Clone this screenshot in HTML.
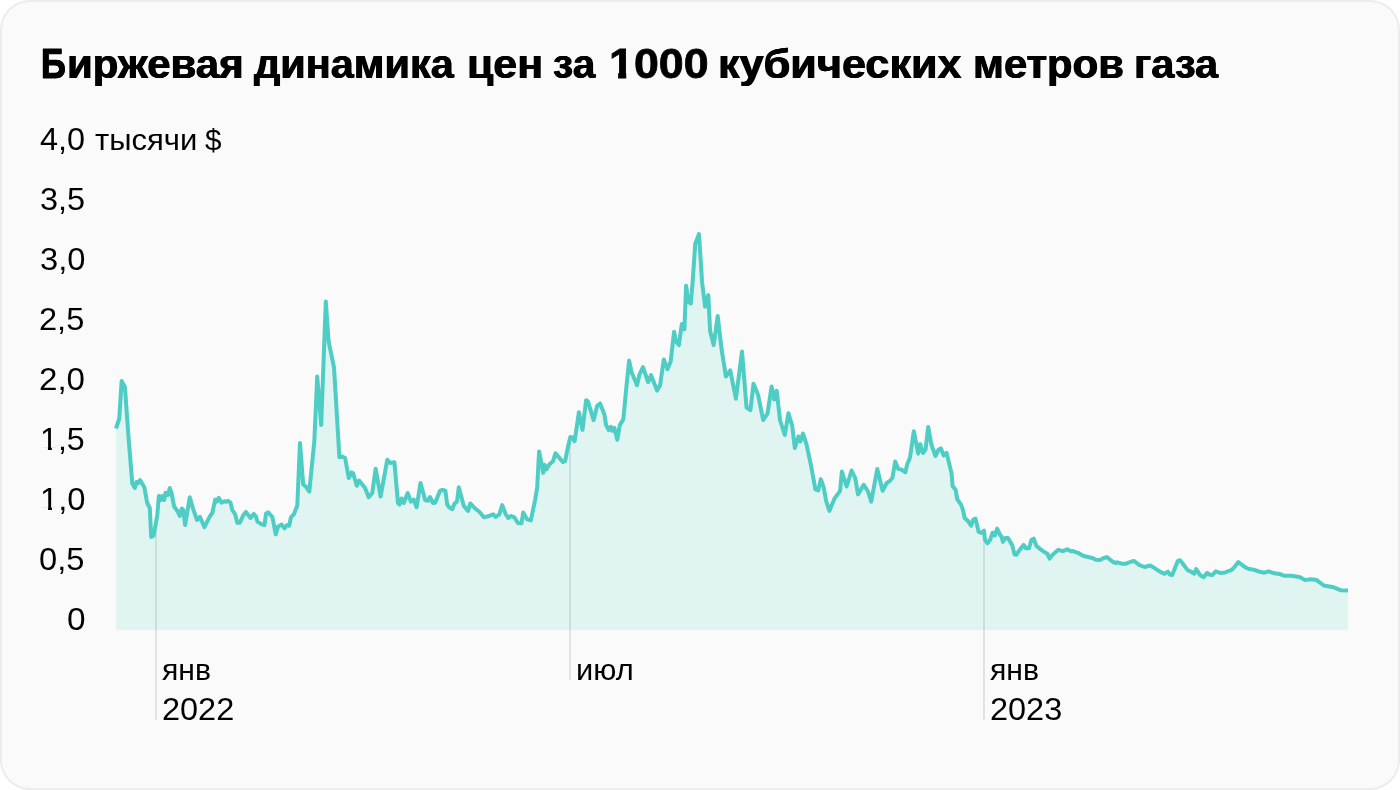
<!DOCTYPE html>
<html lang="ru">
<head>
<meta charset="utf-8">
<title>Биржевая динамика цен за 1000 кубических метров газа</title>
<style>
html,body{margin:0;padding:0;background:#fff;}
body{width:1400px;height:790px;overflow:hidden;font-family:"Liberation Sans",sans-serif;color:#000;}
.card{position:relative;box-sizing:border-box;width:1400px;height:790px;background:#fafafa;border:2px solid #ececec;border-radius:30px;overflow:hidden;}
.inner{position:absolute;left:-2px;top:-2px;width:1400px;height:790px;}
h1,.lbl{margin:0;padding:0;font-size:0;font-weight:400;}
h1 .c{-webkit-text-stroke:0.8px #000;}
h1 .b{text-shadow:0.6px 0 0 #000,-0.6px 0 0 #000;}
h1 .l{text-shadow:0.5px 0 0 #000,-0.5px 0 0 #000;}
.one{display:inline-block;}
.w{position:absolute;display:block;white-space:nowrap;transform-origin:0 0;}
svg{position:absolute;left:0;top:0;}
</style>
</head>
<body>
<div class="card"><div class="inner">
<svg width="1400" height="790" viewBox="0 0 1400 790">
<path d="M116 428.5 L119.3 418.5 L121.6 381.07 L124.9 387 L128.5 437 L132.3 483.6 L134.8 487.9 L136.5 481.92 L138 483.2 L140 480.1 L144.3 487.2 L147.2 503 L149.8 508 L151.2 537 L153.6 535.5 L157.2 515.8 L158.9 495.89 L160.8 500 L162.2 496.17 L164.1 500 L165.5 492.81 L168 495 L169.8 487.98 L171.5 493 L174.1 506.5 L177.3 510.8 L179.8 516 L181.8 508.54 L183.3 510 L185.1 525 L189.8 497.2 L193 508.6 L197 520 L199.9 516.81 L204.4 527.2 L209.4 517.2 L212.3 513 L215.2 499.58 L217 501.5 L218.7 497.85 L221.6 502.6 L224.5 501.25 L226 501.8 L228 500.89 L230.5 502.6 L232.3 510 L235.2 514.4 L237.3 522.7 L239.9 522.7 L243 515.8 L245.9 511.88 L250.5 518 L253.8 513.95 L256 516.5 L257.4 521.5 L261.7 524.4 L264.5 525.1 L266 513.7 L268.1 512.33 L272.4 517 L275.7 534.4 L278.1 526.5 L281.7 524.58 L284.5 528.4 L286.7 525.16 L289.1 525.8 L291 517.2 L293.8 514.4 L297.3 505.5 L300 442.9 L303.2 484.4 L305.8 486.5 L309.3 491.5 L314.3 441.5 L317.2 376.5 L321.2 425 L325.8 301.4 L328.6 341.5 L334 367.3 L339.4 457.2 L342.2 456.56 L345.1 458 L348.7 478 L351.5 472.31 L353.2 473.5 L356.8 485.8 L359.1 480.51 L365.1 488 L368.7 497.3 L372.3 493 L375.6 468.7 L380.6 496.6 L387.3 459.71 L390.2 463 L394.4 462.27 L398 503 L399.5 504.5 L401.6 498.44 L403.7 503 L407.7 493 L410.9 501.6 L413.8 499.59 L416.6 507.3 L420.5 483 L425.2 500.1 L428 500.8 L429.9 496.97 L433 503 L435.2 502.7 L440 490.8 L442.3 489.98 L445.4 490.8 L447.2 504.4 L449.4 507.6 L452.2 509.2 L454.4 503.8 L457 501.5 L458.8 487.2 L463.8 505.9 L468.1 510.9 L470.3 503.44 L474.6 508 L479.3 511.8 L483.9 517.3 L487.9 516.3 L493.2 514.29 L495.8 517 L499.3 514.4 L502.2 505.1 L505.8 514.4 L508.3 518 L510.8 515.93 L514.3 517.3 L517.9 523 L521.5 523.3 L523.2 512.47 L527.2 519.4 L530.8 520.4 L535.1 500.1 L537.2 487.2 L539.1 451.4 L543.2 472.9 L544.4 464.74 L546.5 469.3 L549.4 464.3 L553 461.2 L555.5 453.3 L563 462.2 L565.1 461.2 L567.3 450 L570.3 437.04 L572.3 437.5 L574.6 441.3 L578.9 412.2 L582.5 429.8 L586.1 400.22 L588 401.5 L593.6 420.1 L597.2 405.8 L600.1 403.43 L604.4 414.4 L606.1 425.1 L608.7 430.1 L610.8 426.81 L612.3 430.8 L614.4 427.79 L617.3 439.7 L619.8 425.1 L623.3 419.4 L625.8 392.9 L629.1 360.6 L631.6 372.2 L637 385.3 L639.4 374.7 L643 367.2 L648.1 382 L651 375.16 L657.1 390.6 L660.1 385.3 L663.8 359.4 L667.5 369.2 L670.6 361.8 L674.1 331.7 L676 341.5 L678.9 345.1 L681.8 324.1 L684.4 329.3 L686.1 285.8 L688.4 302.3 L690.8 303.4 L692.6 282.4 L695.2 244 L699 234 L702.1 282.2 L705.1 306.8 L708.3 295.1 L710.1 331 L713.7 345.1 L717.7 316 L721.6 349.4 L725.9 376.5 L730.2 370.39 L735.9 398.7 L742 351.5 L746.5 407.5 L750.4 410.1 L753.5 383.7 L758.1 395.1 L763.2 420 L767.5 413.6 L771.6 386.5 L774.2 399.4 L776.7 390.8 L780 420 L784.8 435 L788.4 413.2 L792.2 425.8 L794.8 447.9 L798.4 436.48 L800.4 441.5 L803 433.6 L806.5 444.3 L810.8 464.4 L815.4 489.4 L818.3 490.4 L820.8 479.1 L823.7 487.3 L826.3 501.6 L829.4 510.9 L834.4 498.7 L840.1 490.8 L841.9 471.5 L846.6 486.5 L851.6 470.5 L855.2 478 L858 494.4 L863.7 484.75 L868 491.5 L871.2 501.6 L877.3 468.9 L882.6 490.8 L886.6 483 L889.5 481.3 L892.4 478 L895.2 461.49 L898.1 468.7 L901 469.4 L905.4 472.2 L907.2 464.3 L910 457.8 L913.8 431.2 L918.2 453.6 L920.2 444.1 L923 453 L925.6 449.3 L928.2 427 L931.5 445 L935.5 456 L938.4 449.8 L940.8 448.34 L943.7 455.5 L946.6 452.85 L951.6 473.6 L952.6 486.1 L955.6 489.7 L957.3 499.4 L960.9 504.4 L963 510.1 L964.7 518.1 L968 520.9 L971.1 525.8 L973.1 519.7 L975.5 518.61 L978.6 531.9 L981.2 532.9 L984 530.71 L985 540.1 L987.5 543.2 L990 540.1 L992.6 532.76 L994.8 535.5 L997.2 528.62 L1000.1 535.1 L1001.5 536.5 L1002.9 541.8 L1005.5 537.9 L1007.9 537.9 L1012.2 545.1 L1014.6 554.4 L1016.5 554.7 L1019.4 550.1 L1023.7 544.92 L1025.8 548.2 L1029 548.2 L1031.5 539.8 L1033.7 538.71 L1036.5 546.1 L1043 551.1 L1047.3 553.7 L1049.7 558.7 L1052.3 555.1 L1058.4 549.83 L1062.7 551.2 L1067.3 549.28 L1070.9 551.2 L1073 551.11 L1078.7 553.2 L1083 555.8 L1092.3 558 L1095.9 559.8 L1099.9 560.1 L1103.8 558 L1106.9 557.09 L1113.1 562 L1115.9 563 L1117.4 562.36 L1121.7 563.7 L1126 563.7 L1130.2 562 L1133.8 560.9 L1139.5 565.1 L1144.5 567 L1150.3 565.54 L1155 568.4 L1160.7 572.2 L1164.3 573.7 L1167.9 571.69 L1170 574.7 L1172.2 575.1 L1177.9 560.8 L1180 560.16 L1182.9 563.7 L1187.6 570.1 L1190.8 571.5 L1194.3 573.7 L1196.2 569.14 L1200.1 575.1 L1203.6 577.2 L1207.2 572.88 L1210 574.7 L1212.2 575.1 L1215.8 571.35 L1220.1 572.9 L1225.1 572.5 L1228 571.2 L1230.8 570.4 L1233.4 568.4 L1238.3 562.04 L1245.8 567.7 L1249.4 569.1 L1253.7 569.7 L1258.7 571.5 L1264.4 572.7 L1268.7 571.33 L1273 572.9 L1279.5 573.9 L1284.5 575.8 L1290.9 575.8 L1299.5 577 L1305.2 580.1 L1310.9 579.19 L1316.7 580.1 L1323.8 585.5 L1333.8 587.3 L1341 590.3 L1348 590.4 L1348 630 L116 630 Z" fill="#e0f4f2"/>
<rect x="155" y="522.4" width="2" height="197.6" fill="#000" fill-opacity="0.09"/>
<rect x="569" y="438.3" width="2" height="241.7" fill="#000" fill-opacity="0.09"/>
<rect x="983" y="530.7" width="2" height="189.3" fill="#000" fill-opacity="0.09"/>
<path d="M116 428.5 L119.3 418.5 L121.6 381.07 L124.9 387 L128.5 437 L132.3 483.6 L134.8 487.9 L136.5 481.92 L138 483.2 L140 480.1 L144.3 487.2 L147.2 503 L149.8 508 L151.2 537 L153.6 535.5 L157.2 515.8 L158.9 495.89 L160.8 500 L162.2 496.17 L164.1 500 L165.5 492.81 L168 495 L169.8 487.98 L171.5 493 L174.1 506.5 L177.3 510.8 L179.8 516 L181.8 508.54 L183.3 510 L185.1 525 L189.8 497.2 L193 508.6 L197 520 L199.9 516.81 L204.4 527.2 L209.4 517.2 L212.3 513 L215.2 499.58 L217 501.5 L218.7 497.85 L221.6 502.6 L224.5 501.25 L226 501.8 L228 500.89 L230.5 502.6 L232.3 510 L235.2 514.4 L237.3 522.7 L239.9 522.7 L243 515.8 L245.9 511.88 L250.5 518 L253.8 513.95 L256 516.5 L257.4 521.5 L261.7 524.4 L264.5 525.1 L266 513.7 L268.1 512.33 L272.4 517 L275.7 534.4 L278.1 526.5 L281.7 524.58 L284.5 528.4 L286.7 525.16 L289.1 525.8 L291 517.2 L293.8 514.4 L297.3 505.5 L300 442.9 L303.2 484.4 L305.8 486.5 L309.3 491.5 L314.3 441.5 L317.2 376.5 L321.2 425 L325.8 301.4 L328.6 341.5 L334 367.3 L339.4 457.2 L342.2 456.56 L345.1 458 L348.7 478 L351.5 472.31 L353.2 473.5 L356.8 485.8 L359.1 480.51 L365.1 488 L368.7 497.3 L372.3 493 L375.6 468.7 L380.6 496.6 L387.3 459.71 L390.2 463 L394.4 462.27 L398 503 L399.5 504.5 L401.6 498.44 L403.7 503 L407.7 493 L410.9 501.6 L413.8 499.59 L416.6 507.3 L420.5 483 L425.2 500.1 L428 500.8 L429.9 496.97 L433 503 L435.2 502.7 L440 490.8 L442.3 489.98 L445.4 490.8 L447.2 504.4 L449.4 507.6 L452.2 509.2 L454.4 503.8 L457 501.5 L458.8 487.2 L463.8 505.9 L468.1 510.9 L470.3 503.44 L474.6 508 L479.3 511.8 L483.9 517.3 L487.9 516.3 L493.2 514.29 L495.8 517 L499.3 514.4 L502.2 505.1 L505.8 514.4 L508.3 518 L510.8 515.93 L514.3 517.3 L517.9 523 L521.5 523.3 L523.2 512.47 L527.2 519.4 L530.8 520.4 L535.1 500.1 L537.2 487.2 L539.1 451.4 L543.2 472.9 L544.4 464.74 L546.5 469.3 L549.4 464.3 L553 461.2 L555.5 453.3 L563 462.2 L565.1 461.2 L567.3 450 L570.3 437.04 L572.3 437.5 L574.6 441.3 L578.9 412.2 L582.5 429.8 L586.1 400.22 L588 401.5 L593.6 420.1 L597.2 405.8 L600.1 403.43 L604.4 414.4 L606.1 425.1 L608.7 430.1 L610.8 426.81 L612.3 430.8 L614.4 427.79 L617.3 439.7 L619.8 425.1 L623.3 419.4 L625.8 392.9 L629.1 360.6 L631.6 372.2 L637 385.3 L639.4 374.7 L643 367.2 L648.1 382 L651 375.16 L657.1 390.6 L660.1 385.3 L663.8 359.4 L667.5 369.2 L670.6 361.8 L674.1 331.7 L676 341.5 L678.9 345.1 L681.8 324.1 L684.4 329.3 L686.1 285.8 L688.4 302.3 L690.8 303.4 L692.6 282.4 L695.2 244 L699 234 L702.1 282.2 L705.1 306.8 L708.3 295.1 L710.1 331 L713.7 345.1 L717.7 316 L721.6 349.4 L725.9 376.5 L730.2 370.39 L735.9 398.7 L742 351.5 L746.5 407.5 L750.4 410.1 L753.5 383.7 L758.1 395.1 L763.2 420 L767.5 413.6 L771.6 386.5 L774.2 399.4 L776.7 390.8 L780 420 L784.8 435 L788.4 413.2 L792.2 425.8 L794.8 447.9 L798.4 436.48 L800.4 441.5 L803 433.6 L806.5 444.3 L810.8 464.4 L815.4 489.4 L818.3 490.4 L820.8 479.1 L823.7 487.3 L826.3 501.6 L829.4 510.9 L834.4 498.7 L840.1 490.8 L841.9 471.5 L846.6 486.5 L851.6 470.5 L855.2 478 L858 494.4 L863.7 484.75 L868 491.5 L871.2 501.6 L877.3 468.9 L882.6 490.8 L886.6 483 L889.5 481.3 L892.4 478 L895.2 461.49 L898.1 468.7 L901 469.4 L905.4 472.2 L907.2 464.3 L910 457.8 L913.8 431.2 L918.2 453.6 L920.2 444.1 L923 453 L925.6 449.3 L928.2 427 L931.5 445 L935.5 456 L938.4 449.8 L940.8 448.34 L943.7 455.5 L946.6 452.85 L951.6 473.6 L952.6 486.1 L955.6 489.7 L957.3 499.4 L960.9 504.4 L963 510.1 L964.7 518.1 L968 520.9 L971.1 525.8 L973.1 519.7 L975.5 518.61 L978.6 531.9 L981.2 532.9 L984 530.71 L985 540.1 L987.5 543.2 L990 540.1 L992.6 532.76 L994.8 535.5 L997.2 528.62 L1000.1 535.1 L1001.5 536.5 L1002.9 541.8 L1005.5 537.9 L1007.9 537.9 L1012.2 545.1 L1014.6 554.4 L1016.5 554.7 L1019.4 550.1 L1023.7 544.92 L1025.8 548.2 L1029 548.2 L1031.5 539.8 L1033.7 538.71 L1036.5 546.1 L1043 551.1 L1047.3 553.7 L1049.7 558.7 L1052.3 555.1 L1058.4 549.83 L1062.7 551.2 L1067.3 549.28 L1070.9 551.2 L1073 551.11 L1078.7 553.2 L1083 555.8 L1092.3 558 L1095.9 559.8 L1099.9 560.1 L1103.8 558 L1106.9 557.09 L1113.1 562 L1115.9 563 L1117.4 562.36 L1121.7 563.7 L1126 563.7 L1130.2 562 L1133.8 560.9 L1139.5 565.1 L1144.5 567 L1150.3 565.54 L1155 568.4 L1160.7 572.2 L1164.3 573.7 L1167.9 571.69 L1170 574.7 L1172.2 575.1 L1177.9 560.8 L1180 560.16 L1182.9 563.7 L1187.6 570.1 L1190.8 571.5 L1194.3 573.7 L1196.2 569.14 L1200.1 575.1 L1203.6 577.2 L1207.2 572.88 L1210 574.7 L1212.2 575.1 L1215.8 571.35 L1220.1 572.9 L1225.1 572.5 L1228 571.2 L1230.8 570.4 L1233.4 568.4 L1238.3 562.04 L1245.8 567.7 L1249.4 569.1 L1253.7 569.7 L1258.7 571.5 L1264.4 572.7 L1268.7 571.33 L1273 572.9 L1279.5 573.9 L1284.5 575.8 L1290.9 575.8 L1299.5 577 L1305.2 580.1 L1310.9 579.19 L1316.7 580.1 L1323.8 585.5 L1333.8 587.3 L1341 590.3 L1348 590.4" fill="none" stroke="#4ecdc4" stroke-width="4" stroke-linejoin="round" stroke-linecap="butt"/>
</svg>
<h1><span class="w c b" style="left:41.38px;top:21px;font-size:42.5px;line-height:85.0px;font-weight:700;transform:scaleX(0.8107)">Б</span><span class="w l" style="left:67.05px;top:23px;font-size:41px;line-height:82px;font-weight:700;transform:scaleX(1.0243)">иржевая</span> <span class="w l" style="left:254.00px;top:23px;font-size:41px;line-height:82px;font-weight:700;transform:scaleX(1.0108)">динамика</span> <span class="w l" style="left:467.21px;top:23px;font-size:41px;line-height:82px;font-weight:700;transform:scaleX(1.0455)">цен</span> <span class="w l" style="left:552.61px;top:23px;font-size:41px;line-height:82px;font-weight:700;transform:scaleX(0.9897)">за</span> <span class="w c" style="left:608.99px;top:21px;font-size:42.5px;line-height:85.0px;font-weight:700;transform:scaleX(1.0538)"><span class="one" style="clip-path:polygon(-5px -5px,40px -5px,40px 51.20px,16.35px 51.20px,16.35px 90.0px,8.65px 90.0px,8.65px 51.20px,-5px 51.20px)">1</span>000</span> <span class="w l" style="left:717.89px;top:23px;font-size:41px;line-height:82px;font-weight:700;transform:scaleX(1.0534)">кубических</span> <span class="w l" style="left:972.96px;top:23px;font-size:41px;line-height:82px;font-weight:700;transform:scaleX(1.0196)">метров</span> <span class="w l" style="left:1133.67px;top:23px;font-size:41px;line-height:82px;font-weight:700;transform:scaleX(1.0132)">газа</span></h1>
<div class="lbl"><span class="w" style="left:40.25px;top:109px;font-size:31px;line-height:62px;font-weight:400;transform:scaleX(1.0452)">4,0</span> <span class="w" style="left:95.03px;top:110px;font-size:30px;line-height:60px;font-weight:400;transform:scaleX(1.0341)">тысячи</span> <span class="w" style="left:205.19px;top:110px;font-size:30px;line-height:60px;font-weight:400;transform:scaleX(0.9906)">$</span></div>
<div class="lbl"><span class="w" style="left:39.77px;top:169px;font-size:31px;line-height:62px;font-weight:400;transform:scaleX(1.0467)">3,5</span></div>
<div class="lbl"><span class="w" style="left:39.77px;top:229px;font-size:31px;line-height:62px;font-weight:400;transform:scaleX(1.0539)">3,0</span></div>
<div class="lbl"><span class="w" style="left:39.31px;top:289px;font-size:31px;line-height:62px;font-weight:400;transform:scaleX(1.0511)">2,5</span></div>
<div class="lbl"><span class="w" style="left:39.10px;top:349px;font-size:31px;line-height:62px;font-weight:400;transform:scaleX(1.0680)">2,0</span></div>
<div class="lbl"><span class="w" style="left:40.31px;top:409px;font-size:31px;line-height:62px;font-weight:400;transform:scaleX(1.0378)"><span class="one" style="clip-path:polygon(-5px -5px,40px -5px,40px 38.20px,11.35px 38.20px,11.35px 67px,7.65px 67px,7.65px 38.20px,-5px 38.20px)">1</span>,5</span></div>
<div class="lbl"><span class="w" style="left:40.27px;top:469px;font-size:31px;line-height:62px;font-weight:400;transform:scaleX(1.0557)"><span class="one" style="clip-path:polygon(-5px -5px,40px -5px,40px 38.20px,11.35px 38.20px,11.35px 67px,7.65px 67px,7.65px 38.20px,-5px 38.20px)">1</span>,0</span></div>
<div class="lbl"><span class="w" style="left:39.29px;top:529px;font-size:31px;line-height:62px;font-weight:400;transform:scaleX(1.0540)">0,5</span></div>
<div class="lbl"><span class="w" style="left:67.30px;top:589px;font-size:31px;line-height:62px;font-weight:400;transform:scaleX(1.0769)">0</span></div>
<div class="lbl"><span class="w" style="left:162.43px;top:640px;font-size:30px;line-height:60px;font-weight:400;transform:scaleX(1.0037)">янв</span> <span class="w" style="left:161.57px;top:679px;font-size:31px;line-height:62px;font-weight:400;transform:scaleX(1.0472)">2022</span></div>
<div class="lbl"><span class="w" style="left:575.87px;top:640px;font-size:30px;line-height:60px;font-weight:400;transform:scaleX(1.0280)">июл</span></div>
<div class="lbl"><span class="w" style="left:990.43px;top:640px;font-size:30px;line-height:60px;font-weight:400;transform:scaleX(1.0045)">янв</span> <span class="w" style="left:989.82px;top:679px;font-size:31px;line-height:62px;font-weight:400;transform:scaleX(1.0472)">2023</span></div>
</div></div>
</body>
</html>
